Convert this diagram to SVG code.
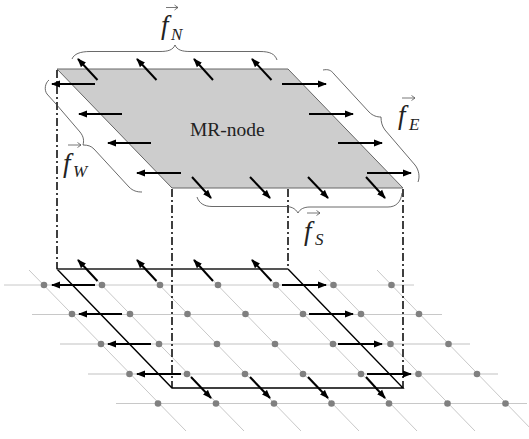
<svg xmlns="http://www.w3.org/2000/svg" width="529" height="439" viewBox="0 0 529 439">
<style>
.grid{stroke:#c8c8c8;stroke-width:1;fill:none}
.soft{stroke:#e0e0e0;stroke-width:2;fill:none}
.node{fill:#808080}
.arr line{stroke:#000;stroke-width:2;marker-end:url(#head)}
.dd{stroke:#000;stroke-width:1.5;stroke-dasharray:8 3 2 3;fill:none}
.brace{stroke:#444;stroke-width:.8;fill:none}
.sq{stroke:#000;stroke-width:1.4;fill:none}
.vec{stroke:#555;stroke-width:.8;fill:none}
text{font-family:"Liberation Serif","Times New Roman",serif;fill:#222}
.it{font-style:italic}
.f{font-size:27px}
.sub{font-size:17px}
</style>
<defs>
<marker id="head" markerUnits="userSpaceOnUse" markerWidth="10" markerHeight="8" refX="8" refY="4" orient="auto"><path d="M0 .6L9 4L0 7.400Z" fill="#000"/></marker>
</defs>
<g id="grid">
<path class="grid" d="M4 285H414M32 314.500H442M116 403.500H527"/>
<path class="soft" d="M60 344H470M88 374H498"/>
<path class="grid" d="M29 270L186 431M87 270L244 431M145 270L301 431M203 270L359 431M261 270L417 431M319 270L475 431M377 270L533 431"/>
</g>
<g id="grid-nodes" class="node">
<circle cx="44" cy="285" r="3.300"/><circle cx="102" cy="285" r="3.300"/><circle cx="160" cy="285" r="3.300"/><circle cx="218" cy="285" r="3.300"/><circle cx="276" cy="285" r="3.300"/><circle cx="333.500" cy="285" r="3.300"/><circle cx="391.500" cy="285" r="3.300"/>
<circle cx="72" cy="314" r="3.300"/><circle cx="130" cy="314" r="3.300"/><circle cx="187.500" cy="314" r="3.300"/><circle cx="245.500" cy="314" r="3.300"/><circle cx="303" cy="314" r="3.300"/><circle cx="361" cy="314" r="3.300"/><circle cx="419" cy="314" r="3.300"/>
<circle cx="101" cy="344" r="3.300"/><circle cx="159" cy="344" r="3.300"/><circle cx="217" cy="344" r="3.300"/><circle cx="275" cy="344" r="3.300"/><circle cx="333" cy="344" r="3.300"/><circle cx="390.500" cy="344" r="3.300"/><circle cx="448.500" cy="344" r="3.300"/>
<circle cx="129.500" cy="374" r="3.300"/><circle cx="187" cy="374" r="3.300"/><circle cx="245" cy="374" r="3.300"/><circle cx="303" cy="374" r="3.300"/><circle cx="361" cy="374" r="3.300"/><circle cx="418.500" cy="374" r="3.300"/><circle cx="477" cy="374" r="3.300"/>
<circle cx="158" cy="403.500" r="3.300"/><circle cx="216" cy="403.500" r="3.300"/><circle cx="274" cy="403.500" r="3.300"/><circle cx="331.500" cy="403.500" r="3.300"/><circle cx="389" cy="403.500" r="3.300"/><circle cx="447.500" cy="403.500" r="3.300"/><circle cx="505.500" cy="403.500" r="3.300"/>
</g>
<g id="mr-node">
<path d="M57 69H288L403 188H172Z" fill="#cdcdcd" stroke="#666" stroke-width="1"/>
<text x="190" y="136" font-size="19.500">MR-node</text>
</g>
<g id="projection">
<path class="sq" d="M57 269L172 388H403L288 269"/>
<path d="M57 269H288" fill="none" stroke="#555" stroke-width="2"/>
</g>
<g id="connectors">
<path class="dd" d="M57 70V269M172 189V388M288 189V269M403 189V388"/>
<g id="top-arrows" class="arr">
<line x1="97.500" y1="80" x2="78" y2="59"/><line x1="156.500" y1="80" x2="137" y2="59"/><line x1="213" y1="80" x2="194" y2="59"/><line x1="271.500" y1="80" x2="252" y2="59"/>
<line x1="95" y1="84" x2="52" y2="84"/><line x1="122" y1="114" x2="79" y2="114"/><line x1="151" y1="143" x2="108" y2="143"/><line x1="181" y1="173" x2="137" y2="173"/>
<line x1="282" y1="84" x2="326" y2="84"/><line x1="309" y1="114" x2="353" y2="114"/><line x1="338" y1="143" x2="382" y2="143"/><line x1="367" y1="173" x2="411" y2="173"/>
<line x1="192" y1="177" x2="211" y2="198"/><line x1="250" y1="177" x2="270" y2="198"/><line x1="308" y1="177" x2="328" y2="198"/><line x1="366" y1="177" x2="385" y2="198"/>
</g>
<g id="bottom-arrows" class="arr">
<line x1="97.500" y1="281" x2="78" y2="260"/><line x1="156.500" y1="281" x2="137" y2="260"/><line x1="213" y1="281" x2="194" y2="260"/><line x1="271.500" y1="281" x2="252" y2="260"/>
<line x1="95" y1="285" x2="52" y2="285"/><line x1="122" y1="314" x2="79" y2="314"/><line x1="151" y1="344" x2="108" y2="344"/><line x1="181" y1="374" x2="137" y2="374"/>
<line x1="282" y1="285" x2="326" y2="285"/><line x1="309" y1="314" x2="353" y2="314"/><line x1="338" y1="344" x2="382" y2="344"/><line x1="367" y1="374" x2="411" y2="374"/>
<line x1="191" y1="377" x2="211" y2="398"/><line x1="250" y1="377" x2="270" y2="398"/><line x1="308" y1="377" x2="328" y2="398"/><line x1="366" y1="377" x2="385" y2="398"/>
</g>
</g>
<g id="brace-n">
<path class="brace" d="M72 59C74 54 80 51.500 90 51.500H160C168 51.500 173 50 175 45C177 50 182 51.500 190 51.500H260C270 51.500 275 54 277 60"/>
<text class="it f" x="161" y="33.500">f</text><text class="it sub" x="171" y="40">N</text>
<path class="vec" d="M166 7.500H178M174.500 5L178 7.500L174.500 10"/>
</g>
<g id="brace-w">
<path class="brace" d="M49 80C45 83 44 90 47 94L56 104L80 132C84 137 84 141 83 145C88 145 91 146 94 149L129 187C133 191 137 192 142 192"/>
<text class="it f" x="63" y="172">f</text><text class="it sub" x="73" y="177">W</text>
<path class="vec" d="M68 145H81M77.500 142.500L81 145L77.500 147.500"/>
</g>
<g id="brace-e">
<path class="brace" d="M323 70C328 69 331 70 334 74L369 112C373 116 377 117 381 117C381 122 382 126 385 130L415 165C419 170 420 177 418 182"/>
<text class="it f" x="398" y="124" font-size="27">f</text><text class="it sub" x="409" y="130">E</text>
<path class="vec" d="M402 98H415M411.500 95.500L415 98L411.500 100.500"/>
</g>
<g id="brace-s">
<path class="brace" d="M197 197C199 203 204 206.500 212 206.500H285C291 206.500 295 208 298 213C300 209 304 207 310 207H388C396 207 401 202 402 193"/>
<text class="it f" x="304" y="240">f</text><text class="it sub" x="315" y="245">S</text>
<path class="vec" d="M307 213H320M316.500 210.500L320 213L316.500 215.500"/>
</g>
</svg>
